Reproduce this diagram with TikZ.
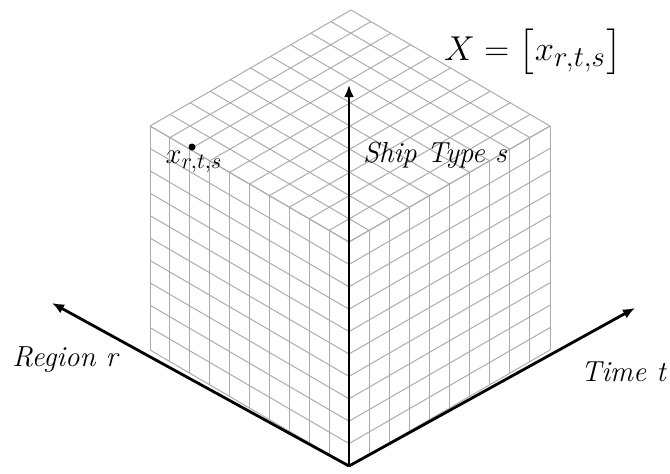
\documentclass[tikz,border=0pt]{standalone}
\usepackage{amsmath}
\usepackage{amssymb}
\usepackage{tikz}
\usetikzlibrary{arrows.meta}

\begin{document}
\begin{tikzpicture}[x=0.5pt,y=0.5pt,
  cell/.style={gray!65, line width=0.5pt},
  axis/.style={-{Latex[length=6pt,width=5pt]}, line width=1.4pt},
  lbl/.style={font=\fontsize{14.5}{17}\selectfont}]
\useasboundingbox (0,0) rectangle (670,473);
% ---- cube grid: top, left and right faces ----
\begin{scope}[shift={(174.5pt,3.5pt)}, x={(-9.95pt,5.8pt)}, y={(10.05pt,5.8pt)}, z={(0pt,11.2pt)}]
\foreach \i in {0,...,10} {
  \draw[cell] (\i,0,10) -- (\i,10,10);
  \draw[cell] (0,\i,10) -- (10,\i,10);
  \draw[cell] (\i,0,0) -- (\i,0,10);
  \draw[cell] (0,0,\i) -- (10,0,\i);
  \draw[cell] (0,\i,0) -- (0,\i,10);
  \draw[cell] (0,0,\i) -- (0,10,\i);
}
\end{scope}
% ---- axes ----
\coordinate (O) at (349,7);
\coordinate (rtip) at (52,170);
\coordinate (ttip) at (635,165);
\coordinate (stip) at (349,388);
\draw[axis] (O) -- (rtip);
\draw[axis] (O) -- (ttip);
\draw[axis] (O) -- (stip);
\node[lbl] (region) at (66,113) {\textit{Region r}};
\node[lbl] (time) at (624,101) {\textit{Time t}};
\node[lbl, right] (ship) at (356,318) {\textit{Ship Type s}};
% ---- one entry of the tensor ----
\node[circle, fill, inner sep=0pt, minimum size=3.5pt] (entry) at (192,326) {};
\node[font=\fontsize{15}{18}\selectfont] (entrylbl) at (194,311) {$x_{r,t,s}$};
\node[font=\fontsize{19}{23}\selectfont] (Xmat) at (533,421) {$X = \big[x_{r,t,s}\big]$};
\end{tikzpicture}
\end{document}
